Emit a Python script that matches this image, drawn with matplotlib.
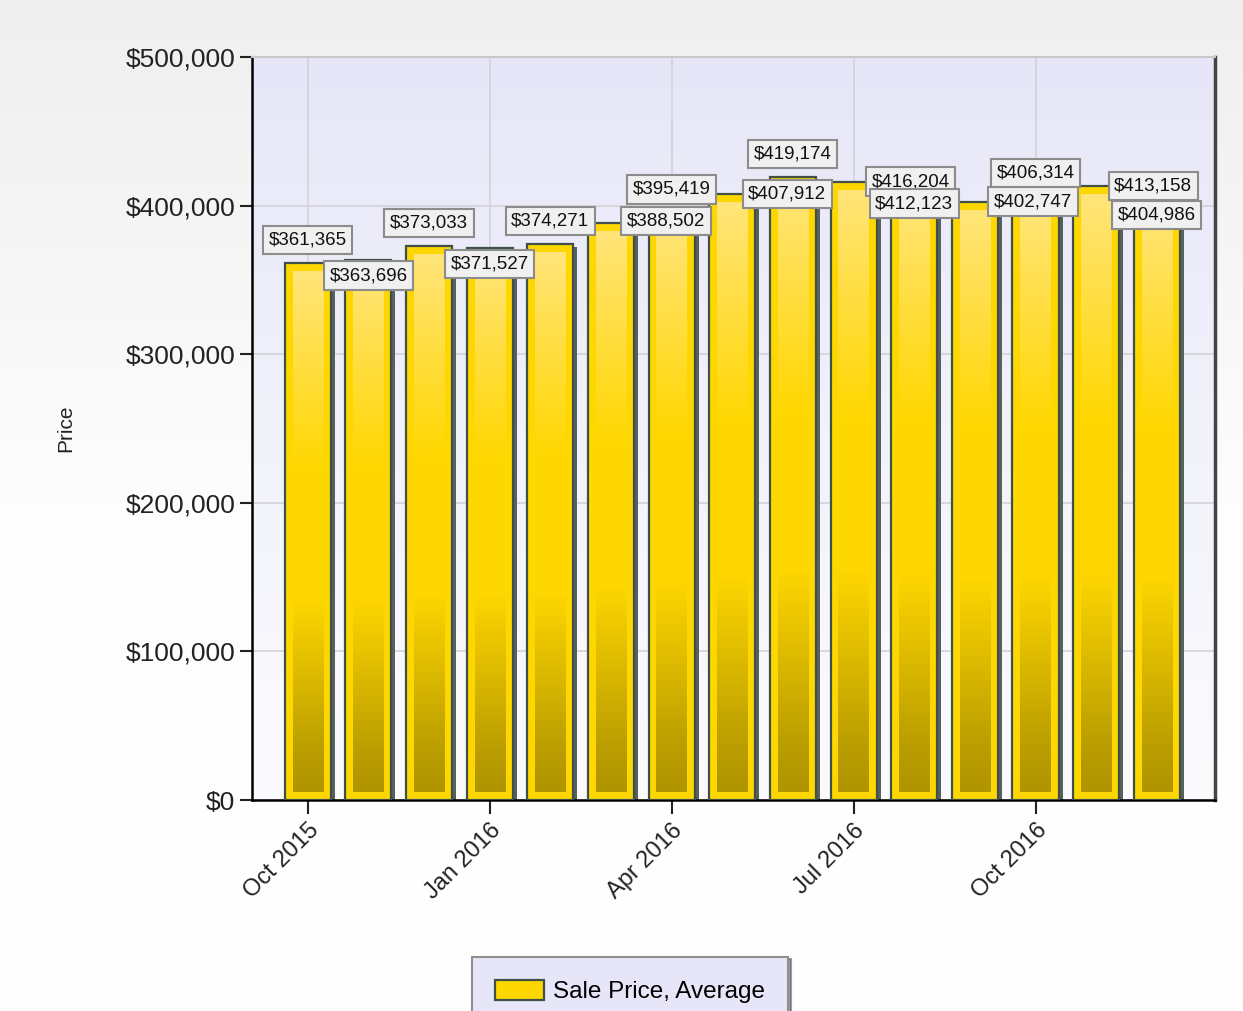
import numpy as np
import matplotlib.pyplot as plt
from matplotlib.colors import LinearSegmentedColormap
from matplotlib.patches import Rectangle
from matplotlib.transforms import offset_copy
from matplotlib.ticker import FuncFormatter

plt.rcParams['font.family'] = ['Liberation Sans', 'DejaVu Sans']

months = ['Oct 2015', 'Nov 2015', 'Dec 2015', 'Jan 2016', 'Feb 2016', 'Mar 2016',
          'Apr 2016', 'May 2016', 'Jun 2016', 'Jul 2016', 'Aug 2016', 'Sep 2016',
          'Oct 2016', 'Nov 2016', 'Dec 2016']
avg_price = [361365, 363696, 373033, 371527, 374271, 388502, 395419, 407912,
             419174, 416204, 412123, 402747, 406314, 413158, 404986]
tick_months = ['Oct 2015', 'Jan 2016', 'Apr 2016', 'Jul 2016', 'Oct 2016']

# label nudges in pixels (dx, dy) so the value boxes don't collide
label_offsets = [(0, 23), (0, -16), (0, 23), (0, -16), (0, 23), (55, 2),
                 (0, 23), (55, 0), (0, 23), (57, 0), (0, -16), (58, 0),
                 (0, 23), (57, 0), (0, -17)]

fig = plt.figure(figsize=(12.43, 10.11), dpi=100)

# figure background gradient
bg = fig.add_axes([0, 0, 1, 1], zorder=-10)
bg_cmap = LinearSegmentedColormap.from_list('bg', ['#ffffff', '#fdfdfd', '#efefef'])
bg.imshow(np.linspace(0, 1, 256).reshape(-1, 1), aspect='auto', cmap=bg_cmap,
          origin='lower', extent=[0, 1, 0, 1])
bg.axis('off')

ax = fig.add_axes([0.2027, 0.2087, 0.7748, 0.7349])
x = np.arange(len(months))
width = 0.76
ax.set_xlim(-0.92, 14.96)
ax.set_ylim(0, 500000)

# plot area gradient
area_cmap = LinearSegmentedColormap.from_list('area', ['#fbfbfe', '#f2f2fb', '#e6e6f8'])
ax.imshow(np.linspace(0, 1, 256).reshape(-1, 1), aspect='auto', cmap=area_cmap,
          origin='lower', extent=[-0.92, 14.96, 0, 500000], zorder=0)

ax.grid(True, color='#d2d2d8', linewidth=1.2, zorder=1)
ax.set_axisbelow(True)

bar_cmap = LinearSegmentedColormap.from_list(
    'bar', [(0.0, '#b09400'), (0.08, '#bb9e00'), (0.37, '#ffd700'),
            (0.62, '#ffd700'), (0.85, '#ffdf4a'), (1.0, '#ffe57a')])

shadow_tr = offset_copy(ax.transData, fig=fig, x=4, y=-3, units='dots')
bars = ax.bar(x, avg_price, width, color='#ffd700', edgecolor='#3e5048',
              linewidth=1.6, zorder=3, label='Sale Price, Average')
inset_x = 0.13
inset_y = 5400
for xi, v in zip(x, avg_price):
    ax.add_patch(Rectangle((xi - width / 2, 0), width, v, facecolor='#566060',
                           edgecolor='none', transform=shadow_tr, zorder=2))
    clip = Rectangle((xi - width / 2 + inset_x, inset_y), width - 2 * inset_x, v - 2 * inset_y,
                     transform=ax.transData, facecolor='none', edgecolor='none')
    ax.add_patch(clip)
    im = ax.imshow(np.linspace(0, 1, 256).reshape(-1, 1), aspect='auto', cmap=bar_cmap,
                   origin='lower',
                   extent=[xi - width / 2 + inset_x, xi + width / 2 - inset_x, inset_y, v - inset_y],
                   zorder=4)
    im.set_clip_path(clip)

for xi, v, (dx, dy) in zip(x, avg_price, label_offsets):
    ax.annotate('${:,}'.format(v), xy=(xi, v), xytext=(dx, dy), textcoords='offset pixels',
                ha='center', va='center', fontsize=13.5, color='#111111', zorder=6,
                bbox=dict(boxstyle='square,pad=0.3', facecolor='#f0f0f0',
                          edgecolor='#8c8c8c', linewidth=1.5))

ax.set_xlim(-0.92, 14.96)
ax.set_ylim(0, 500000)
ax.set_xticks([months.index(m) for m in tick_months])
ax.set_xticklabels(tick_months, rotation=45, ha='right', rotation_mode='anchor',
                   fontsize=17)
ax.set_yticks(np.arange(0, 500001, 100000))
ax.yaxis.set_major_formatter(FuncFormatter(lambda v, p: '${:,.0f}'.format(v)))
ax.tick_params(axis='y', labelsize=19, length=9, width=1.5, pad=3, colors='#222222')
ax.tick_params(axis='x', length=10, width=1.5, pad=4, colors='#222222')
ax.set_ylabel('Price', fontsize=15, labelpad=36, color='#222222')

ax.spines['left'].set_linewidth(1.8)
ax.spines['bottom'].set_linewidth(1.8)
ax.spines['right'].set_color('#444444')
ax.spines['right'].set_linewidth(2.5)
ax.spines['top'].set_color('#c8c8c8')
ax.spines['top'].set_linewidth(1.5)

leg = fig.legend(handles=[bars], labels=['Sale Price, Average'], loc='lower center',
                 bbox_to_anchor=(0.507, -0.015), fontsize=17.5, frameon=True, fancybox=False,
                 shadow=True, borderpad=0.95, handlelength=2.0, handleheight=0.9,
                 handletextpad=0.4, borderaxespad=0)
leg.get_frame().set_facecolor('#e6e6f8')
leg.get_frame().set_edgecolor('#909090')
leg.get_frame().set_linewidth(1.5)

fig.savefig('out.png', dpi=100)
